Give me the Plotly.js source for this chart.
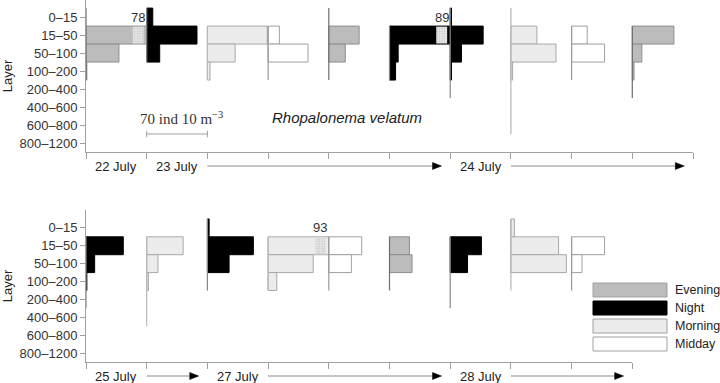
<!DOCTYPE html>
<html>
<head>
<meta charset="utf-8">
<script src="https://cdn.plot.ly/plotly-3.0.1.min.js"></script>
<style>html,body{margin:0;padding:0;background:#fff;}#chart{width:720px;height:383px;}</style>
</head>
<body>
<div id="chart"></div>
<script>
// ---------- DATA ----------
const layers = ['0–15', '15–50', '50–100', '100–200', '200–400', '400–600', '600–800', '800–1200'];
const periods = ['Evening', 'Night', 'Morning', 'Midday'];
const SCALE = 70; // ind 10 m^-3 per column

// top panel (22–24 July): one array per sample, null = not sampled
const topPeriods = ['Evening', 'Night', 'Morning', 'Midday', 'Evening', 'Night', 'Night', 'Morning', 'Midday', 'Evening'];
const top22JulEvening = [0, 78, 38, 1, null, null, null, null];
const top23JulNight   = [7, 58, 15, null, null, null, null, null];
const top23JulMorning = [null, 69, 32, 3, null, null, null, null];
const top23JulMidday  = [null, 13, 46, 0, null, null, null, null];
const top23JulEvening = [0, 35, 19, 0, null, null, null, null];
const top23JulNight2  = [null, 89, 10, 7, null, null, null, null];
const top24JulNight   = [1.5, 38, 13, 1.5, 0, null, null, null];
const top24JulMorning = [0, 30, 52, 2, 0, 0, 0, null];
const top24JulMidday  = [null, 18, 38, 0, null, null, null, null];
const top24JulEvening = [null, 48, 11, 2, 0, null, null, null];
const topSamples = [top22JulEvening, top23JulNight, top23JulMorning, top23JulMidday, top23JulEvening,
                    top23JulNight2, top24JulNight, top24JulMorning, top24JulMidday, top24JulEvening];

// bottom panel (25–28 July)
const botPeriods = ['Night', 'Morning', 'Night', 'Morning', 'Midday', 'Evening', 'Night', 'Morning', 'Midday'];
const bot25JulNight   = [null, 43, 10, 1, 0, null, null, null];
const bot25JulMorning = [null, 42, 13, 2, 0, 0, null, null];
const bot27JulNight   = [2, 53, 25, 0, null, null, null, null];
const bot27JulMorning = [null, 93, 52, 10, null, null, null, null];
const bot27JulMidday  = [null, 38, 26, 0, null, null, null, null];
const bot27JulEvening = [null, 23, 26, 0, null, null, null, null];
const bot28JulNight   = [null, 36, 20, 0, 0, null, null, null];
const bot28JulMorning = [4, 55, 64, 0, null, null, null, null];
const bot28JulMidday  = [null, 38, 12, 0, null, null, null, null];
const botSamples = [bot25JulNight, bot25JulMorning, bot27JulNight, bot27JulMorning, bot27JulMidday,
                    bot27JulEvening, bot28JulNight, bot28JulMorning, bot28JulMidday];

// date labels (column index) and arrows (column spans)
const topDates = ['22 July', '23 July', '24 July'];
const topDateCols = [0, 1, 6];
const topArrows = [[2, 5], [7, 9]];
const botDates = ['25 July', '27 July', '28 July'];
const botDateCols = [0, 2, 6];
const botArrows = [[1, 1], [3, 5], [7, 8]];

// ---------- STYLE ----------
const fillC = {Evening: '#bcbcbc', Night: '#000000', Morning: '#ececec', Midday: '#ffffff'};
const edgeC = {Evening: '#8e8e8e', Night: '#000000', Morning: '#a8a8a8', Midday: '#a0a0a0'};
const baseC = {Evening: '#6e6e6e', Night: '#888888', Morning: '#b8b8b8', Midday: '#999999'};
const FONT = 'Liberation Sans, Arial, sans-serif';
const L = 86, R = 27, PW = 720 - L - R;
const PLOT_H = 362, PANEL_H = 152;
const pxPerUnit = PW / (topSamples.length * SCALE);

const traces = [];
const annotations = [];
const shapes = [];

function buildPanel(samples, pers, xa, ya) {
  const bars = {}, lines = {};
  periods.forEach(p => {
    bars[p] = {type: 'bar', orientation: 'h', x: [], y: [], base: [], width: 1, xaxis: xa, yaxis: ya,
      marker: {color: fillC[p], line: {color: edgeC[p], width: 1}}, hoverinfo: 'skip', showlegend: false};
    lines[p] = {type: 'scatter', mode: 'lines', x: [], y: [], xaxis: xa, yaxis: ya,
      line: {color: baseC[p], width: 1.2}, hoverinfo: 'skip', showlegend: false};
  });
  const brk = {type: 'bar', orientation: 'h', x: [], y: [], base: [], width: 0.94, xaxis: xa, yaxis: ya,
    marker: {color: '#e2e2e2', line: {width: 0},
      pattern: {shape: '.', fgcolor: '#c4c4c4', bgcolor: '#e8e8e8', size: 2.5, solidity: 0.3}},
    hoverinfo: 'skip', showlegend: false};
  samples.forEach((vals, i) => {
    const p = pers[i], off = i * SCALE;
    let first = -1, last = -1;
    vals.forEach((v, j) => {
      if (v === null) return;
      if (first < 0) first = j;
      last = j;
      if (v > 0) {
        bars[p].x.push(Math.min(v, SCALE));
        bars[p].y.push(j);
        bars[p].base.push(off);
      }
      if (v > SCALE) {
        brk.x.push(SCALE * 0.18);
        brk.y.push(j);
        brk.base.push(off + SCALE * 0.77);
        annotations.push({xref: xa, yref: ya, x: off + SCALE * 0.86, y: j - 1, text: String(v),
          showarrow: false, font: {family: FONT, size: 13, color: '#333'}, yanchor: 'middle'});
      }
    });
    if (first >= 0) {
      lines[p].x.push(off, off, null);
      lines[p].y.push(first - 0.5, last + 0.5, null);
    }
  });
  periods.forEach(p => traces.push(bars[p]));
  traces.push(brk);
  periods.forEach(p => traces.push(lines[p]));
}

buildPanel(topSamples, topPeriods, 'x', 'y');
buildPanel(botSamples, botPeriods, 'x2', 'y2');

function dateRow(dates, cols, arrows, xa, ya) {
  const yd = -14 / PANEL_H;
  dates.forEach((d, k) => {
    annotations.push({xref: xa, yref: ya + ' domain', x: (cols[k] + 0.5) * SCALE, y: yd, text: d,
      showarrow: false, xanchor: 'center', yanchor: 'middle', font: {family: FONT, size: 13, color: '#222'}});
  });
  const hl = 9 / pxPerUnit, hh = 3.5 / PANEL_H;
  arrows.forEach(([a, b]) => {
    const x0 = a * SCALE, tip = (b + 1) * SCALE - 10;
    shapes.push({type: 'line', xref: xa, yref: ya + ' domain', x0: x0, x1: tip - hl * 0.5, y0: yd, y1: yd,
      line: {color: '#8a8a8a', width: 1}});
    shapes.push({type: 'path', xref: xa, yref: ya + ' domain',
      path: `M${tip - hl},${yd + hh} L${tip},${yd} L${tip - hl},${yd - hh} Z`,
      fillcolor: '#000', line: {color: '#000', width: 0.5}});
  });
}
dateRow(topDates, topDateCols, topArrows, 'x', 'y');
dateRow(botDates, botDateCols, botArrows, 'x2', 'y2');

// scale bar
const sbY = 6.5;
shapes.push({type: 'line', xref: 'x', yref: 'y', x0: SCALE, x1: 2 * SCALE, y0: sbY, y1: sbY, line: {color: '#a0a0a0', width: 1}});
[SCALE, 2 * SCALE].forEach(xv => shapes.push({type: 'line', xref: 'x', yref: 'y', x0: xv, x1: xv,
  y0: sbY - 0.18, y1: sbY + 0.18, line: {color: '#a0a0a0', width: 1}}));
annotations.push({xref: 'x', yref: 'y', x: 1.5 * SCALE, y: 5.6, xshift: 4, text: SCALE + ' ind 10 m<sup>−3</sup>',
  showarrow: false, font: {family: 'Liberation Serif, Times New Roman, serif', size: 15, color: '#333'}});
annotations.push({xref: 'x', yref: 'y', x: 4.3 * SCALE, y: 5.6, text: '<i>Rhopalonema velatum</i>',
  showarrow: false, font: {family: FONT, size: 15, color: '#222'}});

// legend (drawn)
const lgX0 = (593 - L) / PW, lgX1 = (667 - L) / PW, lgTx = (673 - L) / PW;
periods.forEach((p, k) => {
  const yc = (PLOT_H - (290 + 18 * k)) / PLOT_H, h = 7 / PLOT_H;
  shapes.push({type: 'rect', xref: 'paper', yref: 'paper', x0: lgX0, x1: lgX1, y0: yc - h, y1: yc + h,
    fillcolor: fillC[p], line: {color: p === 'Night' ? '#000' : '#a0a0a0', width: 1}});
  annotations.push({xref: 'paper', yref: 'paper', x: lgTx, y: yc, text: p, showarrow: false,
    xanchor: 'left', yanchor: 'middle', font: {family: FONT, size: 12.5, color: '#222'}});
});

const yAxisBase = {tickmode: 'array', tickvals: layers.map((_, i) => i), ticktext: layers,
  showgrid: false, zeroline: false, showline: true, linecolor: '#a0a0a0', linewidth: 1,
  ticks: 'outside', ticklen: 5, tickcolor: '#a0a0a0', tickfont: {family: FONT, size: 13, color: '#333'},
  title: {text: 'Layer', font: {family: FONT, size: 13, color: '#222'}, standoff: 4}};
const xAxisBase = {showgrid: false, zeroline: false, showline: true, linecolor: '#a0a0a0', linewidth: 1,
  ticks: 'outside', ticklen: 6, tickcolor: '#a0a0a0', showticklabels: false, tickmode: 'array'};

const layout = {
  width: 720, height: 383,
  margin: {l: L, r: R, t: 0, b: 383 - PLOT_H},
  paper_bgcolor: '#fff', plot_bgcolor: '#fff',
  barmode: 'overlay', showlegend: false,
  xaxis: Object.assign({}, xAxisBase, {domain: [0, 1], range: [0, topSamples.length * SCALE], anchor: 'y',
    tickvals: topSamples.concat([null]).map((_, i) => i * SCALE)}),
  yaxis: Object.assign({}, yAxisBase, {domain: [1 - PANEL_H / PLOT_H, 1], range: [7.5, -0.95], anchor: 'x'}),
  xaxis2: Object.assign({}, xAxisBase, {domain: [0, botSamples.length / topSamples.length],
    range: [0, botSamples.length * SCALE], anchor: 'y2',
    tickvals: botSamples.concat([null]).map((_, i) => i * SCALE)}),
  yaxis2: Object.assign({}, yAxisBase, {domain: [0, PANEL_H / PLOT_H], range: [7.5, -1.0], anchor: 'x2'}),
  annotations: annotations, shapes: shapes
};

Plotly.newPlot('chart', traces, layout, {displayModeBar: false, staticPlot: true});
</script>
</body>
</html>
